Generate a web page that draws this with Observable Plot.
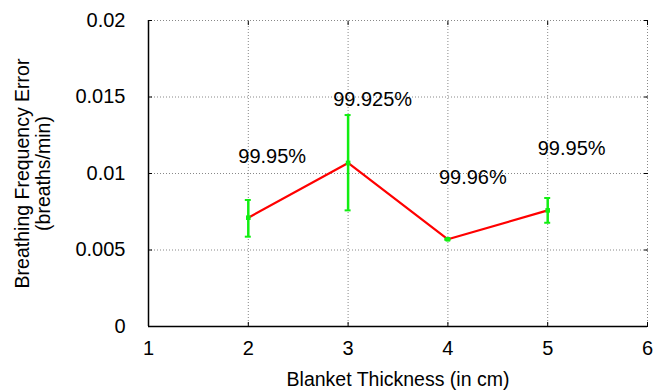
<!DOCTYPE html>
<html>
<head>
<meta charset="utf-8">
<script src="https://cdn.jsdelivr.net/npm/d3@7"></script>
<script src="https://cdn.jsdelivr.net/npm/@observablehq/plot@0.6"></script>
<style>
  html, body { margin: 0; padding: 0; background: #fff; }
  #chart { width: 657px; height: 392px; }
</style>
</head>
<body>
<div id="chart"></div>
<script>
// Data
const thickness = [2, 3, 4, 5];
const errorMean = [0.00711, 0.01069, 0.00570, 0.00759];
const errorLow  = [0.00587, 0.00759, 0.00566, 0.00678];
const errorHigh = [0.00827, 0.01382, 0.00574, 0.00840];
const accuracyLabels = ["99.95%", "99.925%", "99.96%", "99.95%"];
const labelX = [1.90, 2.85, 3.91, 4.90];
const labelY = [0.01108, 0.0148, 0.0097, 0.0116];
const xTicks = [1, 2, 3, 4, 5, 6];
const yTicks = [0, 0.005, 0.01, 0.015, 0.02];
const yTickLabels = ["0", "0.005", "0.01", "0.015", "0.02"];

const pts = thickness.map((x, i) => ({x, y: errorMean[i], lo: errorLow[i], hi: errorHigh[i]}));
const labels = accuracyLabels.map((t, i) => ({x: labelX[i], y: labelY[i], t}));
const capHalf = 0.03;
const green = "#11ee11";
const font = "Liberation Sans, Arial, Helvetica, sans-serif";

const chart = Plot.plot({
  width: 657,
  height: 392,
  marginLeft: 148,
  marginRight: 10,
  marginTop: 20,
  marginBottom: 66,
  style: {fontFamily: font, fontSize: "20px", color: "#000", background: "#fff"},
  x: {domain: [1, 6], ticks: xTicks, tickFormat: d => String(d), label: null},
  y: {domain: [0, 0.02], ticks: yTicks, tickFormat: d => yTickLabels[yTicks.indexOf(d)], label: null},
  marks: [
    // grid
    Plot.ruleY(yTicks.slice(1), {stroke: "#888", strokeDasharray: "1,2", strokeWidth: 1, strokeOpacity: 1}),
    Plot.ruleX(xTicks.slice(1), {stroke: "#888", strokeDasharray: "1,2", strokeWidth: 1, strokeOpacity: 1}),
    // frame solid left/bottom
    Plot.ruleX([1], {stroke: "#000", strokeWidth: 1.5}),
    Plot.ruleY([0], {stroke: "#000", strokeWidth: 1.5}),
    Plot.axisX({ticks: xTicks, tickFormat: d => String(d), tickSize: -4, tickPadding: 18, fontSize: 20, stroke: "#000"}),
    Plot.axisY({ticks: yTicks, tickFormat: d => yTickLabels[yTicks.indexOf(d)], tickSize: -4, tickPadding: 27, fontSize: 20}),
    Plot.axisX({anchor: "top", ticks: xTicks, tickSize: -4, tickFormat: () => ""}),
    Plot.axisY({anchor: "right", ticks: yTicks, tickSize: -4, tickFormat: () => ""}),
    // line
    Plot.line(pts, {x: "x", y: "y", stroke: "#ff0000", strokeWidth: 2.2}),
    // error bars
    Plot.ruleX(pts, {x: "x", y1: "lo", y2: "hi", stroke: green, strokeWidth: 2.5}),
    Plot.ruleY(pts, {y: "lo", x1: d => d.x - capHalf, x2: d => d.x + capHalf, stroke: green, strokeWidth: 2}),
    Plot.ruleY(pts, {y: "hi", x1: d => d.x - capHalf, x2: d => d.x + capHalf, stroke: green, strokeWidth: 2}),
    Plot.dot(pts, {x: "x", y: "y", symbol: "square", r: 2.6, fill: green, stroke: "none"}),
    // accuracy labels
    Plot.text(labels, {x: "x", y: "y", text: "t", textAnchor: "start", fontSize: 20, fill: "#000"}),
    // axis titles
    Plot.text(["Blanket Thickness (in cm)"], {frameAnchor: "bottom", dy: 59, fontSize: 19.5, fill: "#000"}),
    Plot.text(["Breathing Frequency Error\n(breaths/min)"], {frameAnchor: "left", textAnchor: "middle", dx: -116, rotate: -90, fontSize: 19.5, lineHeight: 1.1, fill: "#000"})
  ]
});
document.getElementById("chart").appendChild(chart);
</script>
</body>
</html>
